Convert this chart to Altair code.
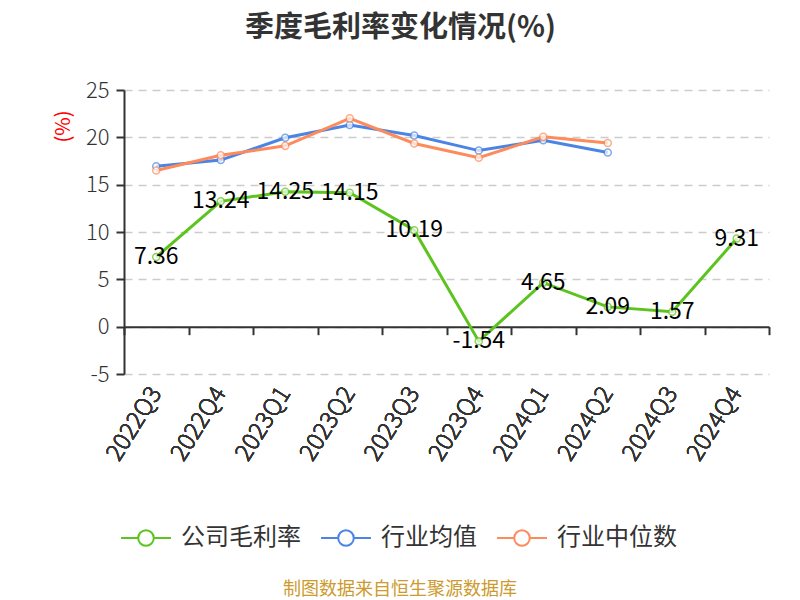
import altair as alt
import pandas as pd

quarters = ['2022Q3', '2022Q4', '2023Q1', '2023Q2', '2023Q3', '2023Q4',
            '2024Q1', '2024Q2', '2024Q3', '2024Q4']
company = [7.36, 13.24, 14.25, 14.15, 10.19, -1.54, 4.65, 2.09, 1.57, 9.31]
ind_avg = [16.95, 17.6, 19.95, 21.3, 20.2, 18.6, 19.7, 18.4]
ind_med = [16.5, 18.1, 19.1, 22.0, 19.35, 17.85, 20.05, 19.4]
series_names = ['公司毛利率', '行业均值', '行业中位数']
series_colors = ['#5cc31f', '#4b84e4', '#fd8b5b']
y_ticks = [-5, 0, 5, 10, 15, 20, 25]
title_text = '季度毛利率变化情况(%)'
y_title = '(%)'
note = '制图数据来自恒生聚源数据库'

rows = []
for name, vals in zip(series_names, [company, ind_avg, ind_med]):
    for q, v in zip(quarters, vals):
        rows.append({'quarter': q, 'series': name, 'value': v, 'label': f'{v:.2f}'})
df = pd.DataFrame(rows)

FONT = 'Noto Sans CJK SC'
W, H = 645, 284
legend_path = "M-3.2,0L-1,0M1,0L3.2,0M-1,0A1,1 0 1,1 1,0A1,1 0 1,1 -1,0Z"

xscale = alt.Scale(type='band', domain=quarters, paddingInner=0, paddingOuter=0)
yscale = alt.Scale(domain=[-5, 25], nice=False, zero=False)
cscale = alt.Scale(domain=series_names, range=series_colors)

x_lab = alt.X('quarter:N', sort=quarters, scale=xscale,
              axis=alt.Axis(orient='bottom', title=None, domain=False, ticks=False, grid=False,
                            labelAngle=302, labelAlign='right', labelBaseline='middle',
                            labelPadding=15, labelFontSize=24, labelColor='#333',
                            labelFont=FONT, labelFontWeight=300))
y_enc = alt.Y('value:Q', scale=yscale,
              axis=alt.Axis(values=y_ticks, title=y_title, titleColor='#ff0000',
                            titleFontSize=20, titleFont=FONT, titleFontWeight='normal',
                            titleAngle=270, titleX=-61, titleY=36, titleAlign='center',
                            titleBaseline='middle', labelExpr="datum.value + ''",
                            labelFontSize=22, labelColor='#333', labelFont=FONT,
                            labelFontWeight=300,
                            labelPadding=7, tickSize=8, tickColor='#333', tickWidth=2,
                            domainColor='#333', domainWidth=2,
                            grid=True, gridColor='#cccccc', gridDash=[8, 6], gridWidth=1.5))

base = alt.Chart(df)

layers = []
for i, name in enumerate(series_names):
    leg = None
    if i == 0:
        leg = alt.Legend(orient='none', legendX=10, legendY=436, direction='horizontal',
                         title=None, symbolType=legend_path, symbolSize=243,
                         symbolStrokeWidth=2, symbolFillColor='white',
                         labelFontSize=24, labelFont=FONT, labelColor='#333',
                         labelOffset=23, columnPadding=16, padding=0)
    line = base.transform_filter(alt.datum.series == name).mark_line(strokeWidth=3).encode(
        x=x_lab, y=y_enc,
        color=alt.Color('series:N', scale=cscale, legend=leg))
    pts = base.transform_filter(alt.datum.series == name).mark_point(
        filled=True, size=50, strokeWidth=1.5).encode(
        x=x_lab, y=y_enc, fill=alt.value('white'),
        stroke=alt.Stroke('series:N', scale=cscale, legend=None))
    layers += [line, pts]

labels = base.transform_filter(alt.datum.series == series_names[0]).mark_text(
    fontSize=23, color='black', font=FONT, align='center', baseline='middle').encode(
    x=x_lab, y=y_enc, text='label:N')

zero_axis = base.transform_filter(alt.datum.series == series_names[0]).mark_point(opacity=0).encode(
    x=alt.X('quarter:N', sort=quarters, scale=xscale,
            axis=alt.Axis(orient='bottom', offset=-H * 5 / 30, domain=True, domainColor='#333',
                          domainWidth=2, ticks=True, tickBand='extent', tickSize=8,
                          tickColor='#333', tickWidth=2, labels=False, title=None, grid=False)),
    y=y_enc)

footnote = alt.Chart(pd.DataFrame({'t': [note]})).mark_text(
    fontSize=18, color='#cc9a2d', font=FONT, align='center', baseline='middle').encode(
    x=alt.value(276), y=alt.value(500), text='t:N')

chart = alt.layer(*layers, labels, zero_axis, footnote).resolve_axis(x='independent').properties(
    width=W, height=H,
    title=alt.TitleParams(text=title_text, fontSize=29, fontWeight='bold', color='#333',
                          font=FONT, anchor='middle', dx=-46, offset=36),
    autosize=alt.AutoSizeParams(type='none'),
    padding={'left': 116, 'top': 82, 'right': 23, 'bottom': 240},
).configure_view(stroke=None)

chart.save("out.html", embed_options={"renderer": "svg", "actions": False})
